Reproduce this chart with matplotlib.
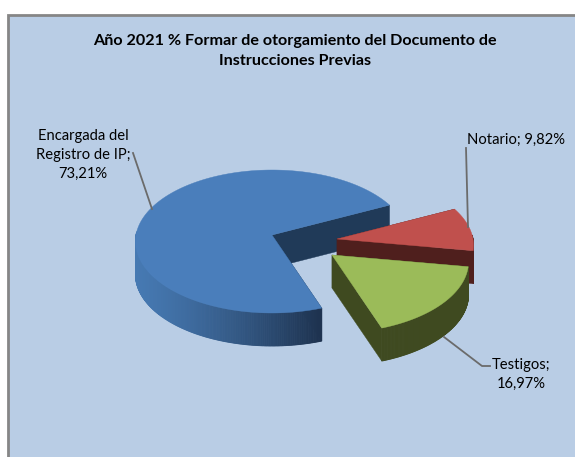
import numpy as np
import matplotlib
matplotlib.use('Agg')
import matplotlib.pyplot as plt
from matplotlib.patches import Polygon, Rectangle

# Data
categories = ['Encargada del\nRegistro de IP;', 'Notario;', 'Testigos;']
values = [73.21, 9.82, 16.97]
value_labels = ['73,21%', '9,82%', '16,97%']
title = 'Año 2021 % Formar de otorgamiento del Documento de\nInstrucciones Previas'

# Look of the 3D pie
top_colors = ['#4a7ebb', '#c0504d', '#9bbb59']
side_colors = [('#4679b2', '#1e3350'), ('#4f1f1d', '#4f1f1d'), ('#3f4a20', '#3f4a20')]
cut_colors = ['#203a58', '#4f1f1d', '#3f4a20']
apex_x, apex_y = 272, 235
explode = [(0, 0), (65, 4), (60, 20)]
start_angle = 26
depth = 33
R = 136
A = 70.9
k = 0.0909

plt.rcParams['font.family'] = ['Lato', 'DejaVu Sans']

fig = plt.figure(figsize=(5.75, 4.57), dpi=100)
ax = fig.add_axes([0, 0, 1, 1])
ax.set_xlim(0, 575)
ax.set_ylim(457, 0)
ax.axis('off')

ax.add_patch(Rectangle((7.5, 14.5), 600, 500, facecolor='#b9cde5', edgecolor='#868686', linewidth=2))


# disc coordinates to pixels, the far side of the disc comes out a bit smaller
def project(angle, radius, ox, oy):
    x = radius * np.cos(np.radians(angle))
    y = radius * np.sin(np.radians(angle))
    return apex_x + ox + R * x / (1 + k * y), apex_y + oy - A * y / (1 + k * y)


def mix(c1, c2, t):
    a = np.array(matplotlib.colors.to_rgb(c1))
    b = np.array(matplotlib.colors.to_rgb(c2))
    return a + (b - a) * t


# blue goes counter clockwise from the start angle, the others fill the gap
spans = []
a0 = start_angle
a1 = a0 + values[0] / 100 * 360
spans.append((a0, a1))
a2 = a1 + values[2] / 100 * 360
spans.append((a2, a2 + values[1] / 100 * 360))
spans.append((a1, a2))

for i in range(3):
    a_start, a_end = spans[i]
    ox, oy = explode[i]
    cx, cy = project(0, 0, ox, oy)

    # cut faces
    for a in (a_start, a_end):
        rx, ry = project(a, 1, ox, oy)
        ax.add_patch(Polygon([(cx, cy), (rx, ry), (rx, ry + depth), (cx, cy + depth)],
                             facecolor=cut_colors[i], edgecolor=cut_colors[i], linewidth=0.3))

    # outer wall, in small strips so the blue one can shade
    steps = int(a_end - a_start) * 2
    angles = np.linspace(a_start, a_end, steps + 1)
    for j in range(steps):
        # back of the wall can't be seen
        if np.sin(np.radians(angles[j])) > 0.05:
            continue
        x0, y0 = project(angles[j], 1, ox, oy)
        x1, y1 = project(angles[j + 1], 1, ox, oy)
        t = np.clip((x0 - 136) / (319 - 136), 0, 1) ** 1.3 if i == 0 else 0
        c = mix(side_colors[i][0], side_colors[i][1], t)
        ax.add_patch(Polygon([(x0, y0), (x1, y1), (x1, y1 + depth), (x0, y0 + depth)],
                             facecolor=c, edgecolor=c, linewidth=0.6))

    # top
    xs, ys = project(angles, 1, ox, oy)
    pts = [(cx, cy)] + list(zip(xs, ys))
    ax.add_patch(Polygon(pts, facecolor=top_colors[i], edgecolor=top_colors[i], linewidth=0.3))

# Leader lines
line_color = '#6b6b6b'
ax.plot([133, 152], [153, 209], color=line_color, lw=1.3)
ax.plot([466, 468], [148, 227], color=line_color, lw=1.3)
ax.plot([444, 482, 490], [337, 366, 366], color=line_color, lw=1.3)

# Text
ax.text(295, 51, title, ha='center', va='center', fontsize=11.6, fontweight='bold',
        color='black', linespacing=1.5)
ax.text(83, 155, categories[0] + '\n' + value_labels[0], ha='center', va='center',
        fontsize=10.6, color='black', linespacing=1.45)
ax.text(516, 140, categories[1] + ' ' + value_labels[1], ha='center', va='center',
        fontsize=10.6, color='black')
ax.text(521, 374, categories[2] + '\n' + value_labels[2], ha='center', va='center',
        fontsize=10.6, color='black', linespacing=1.45)

plt.savefig('out.png', dpi=100)
